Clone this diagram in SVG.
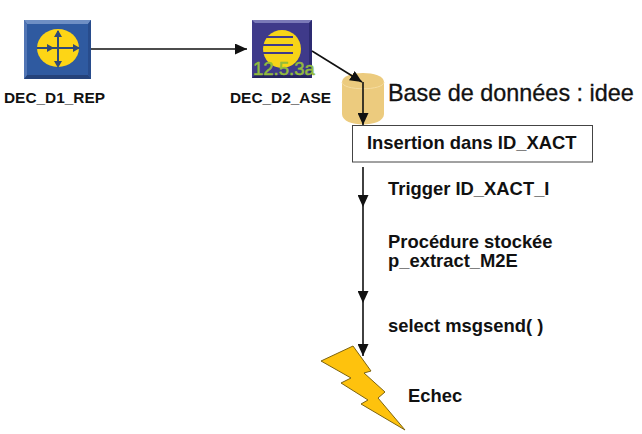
<svg xmlns="http://www.w3.org/2000/svg" width="642" height="434" viewBox="0 0 642 434">
<style>
text{font-family:"Liberation Sans",Arial,sans-serif;font-weight:bold;fill:#111}
.lbl{font-size:18.4px}
.cap{font-size:15.4px}
.ln{stroke:#111;stroke-width:1.6;fill:none}
.glyph{stroke:#2f4a78;stroke-width:2;fill:none}
</style>
<defs>
<marker id="arrow" viewBox="0 0 12 11" refX="12" refY="5.5" markerWidth="12" markerHeight="11" markerUnits="userSpaceOnUse" orient="auto">
<path d="M0 0L12 5.500L0 11Z" fill="#111"/>
</marker>
</defs>
<rect width="642" height="434" fill="#fff"/>
<g id="dec-d1-rep">
<rect x="24" y="20" width="67" height="59" fill="#2f5aa0"/>
<path d="M24 20H91L88 24H27Z" fill="#6f8fc4"/>
<path d="M24 79H91L88 75H27Z" fill="#24427a"/>
<path d="M24 20V79L27 75V24Z" fill="#5175b4"/>
<path d="M91 20V79L88 75V24Z" fill="#284c8c"/>
<ellipse cx="58" cy="48" rx="21" ry="19" fill="#fdd516"/>
<path class="glyph" d="M37 48H79M58 31V66"/>
<path d="M58 30L54 37H62ZM58 68L54 61H62ZM80 48L73 44V52ZM54 48L47 44V52Z" fill="#2f4a78"/>
<text class="cap" x="4" y="103">DEC_D1_REP</text>
</g>
<g id="dec-d2-ase">
<rect x="252" y="20" width="60" height="58" fill="#3f3a8a"/>
<path d="M252 20H312L309 23H255Z" fill="#7b7ab8"/>
<path d="M252 78H312L309 75H255Z" fill="#25235f"/>
<path d="M312 20V78L309 75V23Z" fill="#2d2b72"/>
<circle cx="282" cy="49" r="19" fill="#f7d417"/>
<path d="M263 37H293M263 45H293M263 53H293" stroke="#3f3a8a" stroke-width="2"/>
<text x="253" y="75" font-size="18.500" style="font-weight:normal;fill:#93bb3c;stroke:#93bb3c;stroke-width:.5">12.5.3a</text>
<text class="cap" x="230" y="103">DEC_D2_ASE</text>
</g>
<g id="idee-database">
<path d="M342 82C342 70 384 70 384 82V114C384 128 342 128 342 114Z" fill="#eccb7e"/>
<path d="M342 82C342 91 384 91 384 82" fill="none" stroke="#f5dca0" stroke-width="1"/>
<text x="388" y="101" font-size="23.400" style="font-weight:normal;stroke:#111;stroke-width:.3">Base de données : idee</text>
</g>
<g id="id-xact-insert">
<rect x="352.500" y="125.500" width="240" height="36.500" fill="#fff" stroke="#444" stroke-width="1"/>
<text class="lbl" x="367" y="149">Insertion dans ID_XACT</text>
</g>
<g id="failure-bolt">
<path d="M321 361L353 346L371 371L364 373L385 392L378 398L405 430L361 404L368 400L341 383L351 378Z" fill="#fec20d" stroke="#7d6410" stroke-width="1"/>
<text x="408" y="402" font-size="18.400">Echec</text>
</g>
<g id="connectors">
<path class="ln" d="M91 49H247" marker-end="url(#arrow)"/>
<path class="ln" d="M312 51L362 82" marker-end="url(#arrow)"/>
<path class="ln" d="M363 82V125" marker-end="url(#arrow)"/>
<path class="ln" d="M363 167V207" marker-end="url(#arrow)"/>
<path class="ln" d="M363 207V303" marker-end="url(#arrow)"/>
<path class="ln" d="M363 303V356" marker-end="url(#arrow)"/>
</g>
<g id="step-labels">
<text class="lbl" x="388" y="195">Trigger ID_XACT_I</text>
<text class="lbl" x="388" y="248">Procédure stockée</text>
<text class="lbl" x="388" y="267">p_extract_M2E</text>
<text class="lbl" x="388" y="332">select msgsend( )</text>
</g>
</svg>
